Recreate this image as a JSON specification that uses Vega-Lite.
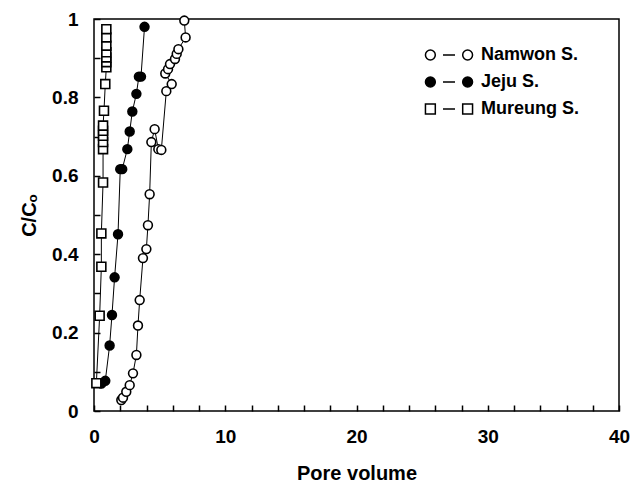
{
  "$schema": "https://vega.github.io/schema/vega-lite/v6.json",
  "width": 525,
  "height": 392,
  "autosize": "none",
  "padding": {"left": 94, "top": 19, "right": 15, "bottom": 81},
  "background": "white",
  "config": {
    "view": {"stroke": "black", "strokeWidth": 1.5},
    "font": "Liberation Sans",
    "axis": {
      "labelFont": "Liberation Sans",
      "labelFontWeight": "bold",
      "labelFontSize": 19,
      "labelColor": "black",
      "titleFont": "Liberation Sans",
      "titleFontWeight": "bold",
      "titleFontSize": 20,
      "titleColor": "black",
      "domain": false,
      "grid": false
    },
    "legend": {
      "labelFont": "Liberation Sans",
      "labelFontWeight": "bold",
      "labelFontSize": 18,
      "labelColor": "black"
    }
  },
  "data": {
    "values": [
      {"series": "Namwon S.", "i": 1, "pv": 2.08, "c": 0.028},
      {"series": "Namwon S.", "i": 2, "pv": 2.21, "c": 0.034},
      {"series": "Namwon S.", "i": 3, "pv": 2.46, "c": 0.049},
      {"series": "Namwon S.", "i": 4, "pv": 2.72, "c": 0.066},
      {"series": "Namwon S.", "i": 5, "pv": 2.97, "c": 0.096},
      {"series": "Namwon S.", "i": 6, "pv": 3.23, "c": 0.143},
      {"series": "Namwon S.", "i": 7, "pv": 3.35, "c": 0.218},
      {"series": "Namwon S.", "i": 8, "pv": 3.48, "c": 0.283},
      {"series": "Namwon S.", "i": 9, "pv": 3.73, "c": 0.39},
      {"series": "Namwon S.", "i": 10, "pv": 3.99, "c": 0.413},
      {"series": "Namwon S.", "i": 11, "pv": 4.11, "c": 0.474},
      {"series": "Namwon S.", "i": 12, "pv": 4.24, "c": 0.553},
      {"series": "Namwon S.", "i": 13, "pv": 4.37, "c": 0.686},
      {"series": "Namwon S.", "i": 14, "pv": 4.62, "c": 0.719},
      {"series": "Namwon S.", "i": 15, "pv": 4.9, "c": 0.668},
      {"series": "Namwon S.", "i": 16, "pv": 5.13, "c": 0.666},
      {"series": "Namwon S.", "i": 17, "pv": 5.51, "c": 0.816},
      {"series": "Namwon S.", "i": 18, "pv": 5.92, "c": 0.834},
      {"series": "Namwon S.", "i": 19, "pv": 5.43, "c": 0.861},
      {"series": "Namwon S.", "i": 20, "pv": 5.64, "c": 0.872},
      {"series": "Namwon S.", "i": 21, "pv": 5.79, "c": 0.885},
      {"series": "Namwon S.", "i": 22, "pv": 6.17, "c": 0.898},
      {"series": "Namwon S.", "i": 23, "pv": 6.3, "c": 0.911},
      {"series": "Namwon S.", "i": 24, "pv": 6.43, "c": 0.923},
      {"series": "Namwon S.", "i": 25, "pv": 6.98, "c": 0.953},
      {"series": "Namwon S.", "i": 26, "pv": 6.88, "c": 0.996},
      {"series": "Jeju S.", "i": 1, "pv": 0.56, "c": 0.07},
      {"series": "Jeju S.", "i": 2, "pv": 0.86, "c": 0.077},
      {"series": "Jeju S.", "i": 3, "pv": 1.19, "c": 0.167},
      {"series": "Jeju S.", "i": 4, "pv": 1.37, "c": 0.245},
      {"series": "Jeju S.", "i": 5, "pv": 1.57, "c": 0.341},
      {"series": "Jeju S.", "i": 6, "pv": 1.83, "c": 0.451},
      {"series": "Jeju S.", "i": 7, "pv": 2.0, "c": 0.617},
      {"series": "Jeju S.", "i": 8, "pv": 2.15, "c": 0.617},
      {"series": "Jeju S.", "i": 9, "pv": 2.54, "c": 0.668},
      {"series": "Jeju S.", "i": 10, "pv": 2.72, "c": 0.713},
      {"series": "Jeju S.", "i": 11, "pv": 2.92, "c": 0.764},
      {"series": "Jeju S.", "i": 12, "pv": 3.23, "c": 0.809},
      {"series": "Jeju S.", "i": 13, "pv": 3.42, "c": 0.853},
      {"series": "Jeju S.", "i": 14, "pv": 3.58, "c": 0.853},
      {"series": "Jeju S.", "i": 15, "pv": 3.85, "c": 0.98},
      {"series": "Mureung S.", "i": 1, "pv": 0.18, "c": 0.071},
      {"series": "Mureung S.", "i": 2, "pv": 0.43, "c": 0.243},
      {"series": "Mureung S.", "i": 3, "pv": 0.56, "c": 0.368},
      {"series": "Mureung S.", "i": 4, "pv": 0.56, "c": 0.453},
      {"series": "Mureung S.", "i": 5, "pv": 0.69, "c": 0.583},
      {"series": "Mureung S.", "i": 6, "pv": 0.69, "c": 0.668},
      {"series": "Mureung S.", "i": 7, "pv": 0.69, "c": 0.686},
      {"series": "Mureung S.", "i": 8, "pv": 0.69, "c": 0.702},
      {"series": "Mureung S.", "i": 9, "pv": 0.69, "c": 0.715},
      {"series": "Mureung S.", "i": 10, "pv": 0.69, "c": 0.728},
      {"series": "Mureung S.", "i": 11, "pv": 0.76, "c": 0.766},
      {"series": "Mureung S.", "i": 12, "pv": 0.86, "c": 0.834},
      {"series": "Mureung S.", "i": 13, "pv": 0.94, "c": 0.877},
      {"series": "Mureung S.", "i": 14, "pv": 0.94, "c": 0.89},
      {"series": "Mureung S.", "i": 15, "pv": 0.94, "c": 0.902},
      {"series": "Mureung S.", "i": 16, "pv": 0.94, "c": 0.915},
      {"series": "Mureung S.", "i": 17, "pv": 0.94, "c": 0.932},
      {"series": "Mureung S.", "i": 18, "pv": 0.94, "c": 0.953},
      {"series": "Mureung S.", "i": 19, "pv": 0.94, "c": 0.974}
    ]
  },
  "encoding": {
    "x": {
      "field": "pv", "type": "quantitative",
      "scale": {"domain": [0, 40], "nice": false, "zero": false},
      "axis": {
        "title": "Pore volume",
        "tickCount": 20,
        "labelExpr": "datum.value % 10 === 0 ? datum.label : ''",
        "offset": -6,
        "ticks": true,
        "tickColor": "#000000",
        "tickSize": 6,
        "tickWidth": 1.5,
        "tickOpacity": 1,
        "labelPadding": 16,
        "titleX": 262.5,
        "titleY": 58,
        "labelFlush": false
      }
    },
    "y": {
      "field": "c", "type": "quantitative",
      "scale": {"domain": [0, 1], "nice": false},
      "axis": {
        "title": "C/Cₒ",
        "tickCount": 10,
        "format": "~g",
        "labelExpr": "abs(datum.value*5 - round(datum.value*5)) < 0.001 ? datum.label : ''",
        "offset": -6,
        "ticks": true,
        "tickColor": "#000000",
        "tickSize": 6,
        "tickWidth": 1.5,
        "tickOpacity": 1,
        "labelPadding": 16,
        "titleX": -61,
        "titleY": 196,
        "labelFlush": false
      }
    }
  },
  "layer": [
    {
      "mark": {"type": "line", "stroke": "black", "strokeWidth": 1},
      "encoding": {
        "detail": {"field": "series"},
        "order": {"field": "i", "type": "quantitative"}
      }
    },
    {
      "mark": {"type": "point", "filled": true, "opacity": 1, "stroke": "black", "strokeWidth": 1.6},
      "encoding": {
        "shape": {"condition": {"test": "datum.series === 'Mureung S.'", "value": "square"}, "value": "circle"},
        "size": {"condition": {"test": "datum.series === 'Mureung S.'", "value": 80}, "value": 78},
        "fill": {"condition": {"test": "datum.series === 'Jeju S.'", "value": "black"}, "value": "white"}
      }
    },
    {
      "transform": [{"filter": "datum.c > 5"}],
      "mark": {"type": "point", "filled": true, "opacity": 1, "strokeWidth": 1.5},
      "encoding": {
        "shape": {
          "field": "series", "type": "nominal",
          "scale": {
            "domain": ["Namwon S.", "Jeju S.", "Mureung S."],
            "range": [
              "M-2.15,0 A0.45,0.45 0 1,0 -1.25,0 A0.45,0.45 0 1,0 -2.15,0 Z M1.25,0 A0.45,0.45 0 1,0 2.15,0 A0.45,0.45 0 1,0 1.25,0 Z M-0.55,0 L0.55,0",
              "M-2.15,0 A0.45,0.45 0 1,0 -1.25,0 A0.45,0.45 0 1,0 -2.15,0 Z M1.25,0 A0.45,0.45 0 1,0 2.15,0 A0.45,0.45 0 1,0 1.25,0 Z M-0.55,0 L0.55,0",
              "M-2.15,-0.45 L-1.25,-0.45 L-1.25,0.45 L-2.15,0.45 Z M1.25,-0.45 L2.15,-0.45 L2.15,0.45 L1.25,0.45 Z M-0.55,0 L0.55,0"
            ]
          },
          "legend": {
            "title": null,
            "orient": "none",
            "legendX": 343,
            "legendY": 24,
            "padding": 0,
            "symbolSize": 480,
            "symbolStrokeColor": "black",
            "symbolStrokeWidth": 1.5,
            "labelOffset": 20,
            "rowPadding": 6
          }
        },
        "fill": {
          "field": "series", "type": "nominal",
          "scale": {"domain": ["Namwon S.", "Jeju S.", "Mureung S."], "range": ["white", "black", "white"]},
          "legend": {
            "title": null,
            "orient": "none",
            "legendX": 343,
            "legendY": 24,
            "padding": 0,
            "symbolSize": 480,
            "symbolStrokeColor": "black",
            "symbolStrokeWidth": 1.5,
            "labelOffset": 20,
            "rowPadding": 6
          }
        },
        "stroke": {
          "field": "series", "type": "nominal",
          "scale": {"domain": ["Namwon S.", "Jeju S.", "Mureung S."], "range": ["black", "black", "black"]},
          "legend": {
            "title": null,
            "orient": "none",
            "legendX": 343,
            "legendY": 24,
            "padding": 0,
            "symbolSize": 480,
            "symbolStrokeColor": "black",
            "symbolStrokeWidth": 1.5,
            "labelOffset": 20,
            "rowPadding": 6
          }
        }
      }
    }
  ]
}
